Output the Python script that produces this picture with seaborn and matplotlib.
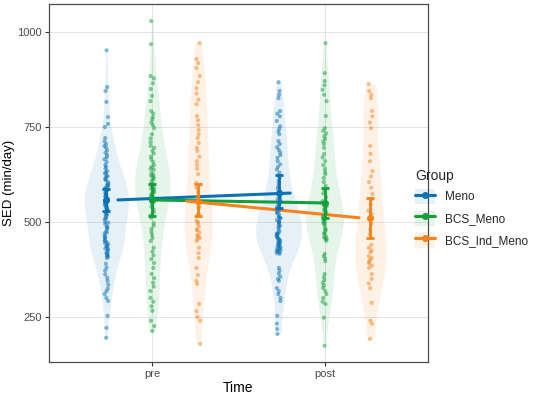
import numpy as np
import pandas as pd
import matplotlib
matplotlib.use("Agg")
import matplotlib.pyplot as plt
import seaborn as sns
from matplotlib.lines import Line2D
from matplotlib.patches import Patch

times = ["pre", "post"]
groups = ["Meno", "BCS_Meno", "BCS_Ind_Meno"]
colors = ["#0A72B5", "#12A03A", "#F7821B"]

# individual SED values (min/day)
meno_pre = [952, 855, 845, 816, 776, 758, 750, 721, 712, 705, 700, 695, 688, 682, 676, 670,
            665, 658, 650, 645, 640, 634, 630, 628, 622, 620, 616, 612, 610, 605, 600, 598,
            596, 592, 590, 588, 584, 582, 580, 576, 574, 572, 568, 566, 565, 562, 560, 558,
            555, 554, 552, 548, 546, 545, 541, 538, 537, 533, 530, 529, 525, 521, 520, 517,
            512, 510, 506, 500, 498, 494, 488, 486, 482, 476, 472, 470, 464, 460, 458, 452,
            450, 447, 444, 442, 438, 436, 434, 430, 428, 426, 421, 418, 416, 412, 411, 408,
            405, 390, 380, 372, 362, 353, 345, 335, 325, 318, 310, 300, 292, 253, 221, 195]
bcs_pre = [1029, 968, 884, 878, 865, 850, 832, 818, 792, 785, 776, 770, 762, 755, 747, 731,
           720, 710, 700, 695, 687, 680, 672, 665, 658, 650, 645, 640, 638, 630, 625, 622,
           620, 616, 612, 608, 600, 600, 598, 595, 590, 588, 585, 580, 578, 575, 570, 568,
           565, 560, 555, 547, 540, 533, 525, 518, 511, 497, 490, 482, 474, 466, 458, 450,
           432, 422, 412, 402, 392, 379, 363, 352, 340, 330, 318, 300, 290, 278, 266, 240,
           226, 213]
bcs_ind_pre = [971, 929, 918, 905, 884, 868, 852, 838, 822, 810, 779, 768, 755, 742, 731, 721,
               708, 695, 687, 672, 660, 650, 640, 626, 603, 590, 578, 566, 555, 540, 537, 521,
               520, 503, 500, 495, 488, 480, 478, 472, 465, 462, 458, 455, 450, 432, 418, 405,
               379, 360, 345, 337, 284, 265, 250, 240, 179]
meno_post = [868, 845, 835, 826, 792, 785, 778, 766, 752, 745, 738, 731, 713, 705, 697, 690,
             683, 676, 669, 660, 652, 645, 638, 630, 623, 616, 608, 601, 594, 587, 580, 573,
             566, 560, 560, 555, 550, 548, 545, 540, 536, 535, 530, 525, 524, 520, 515, 512,
             510, 510, 505, 500, 500, 500, 495, 490, 490, 485, 480, 475, 470, 470, 468, 466,
             463, 460, 458, 456, 453, 452, 449, 447, 445, 443, 441, 438, 437, 434, 432, 430,
             428, 426, 424, 422, 420, 418, 416, 379, 372, 364, 356, 350, 345, 326, 318, 310,
             300, 292, 253, 232, 218, 205]
bcs_post = [971, 892, 871, 860, 848, 835, 818, 779, 747, 740, 733, 726, 719, 712, 705, 695,
            679, 670, 660, 650, 640, 632, 626, 616, 605, 595, 585, 575, 565, 555, 550, 545,
            545, 540, 535, 530, 530, 525, 520, 515, 515, 510, 505, 503, 500, 497, 495, 490,
            483, 480, 476, 470, 469, 462, 460, 456, 455, 450, 416, 410, 404, 397, 363, 355,
            347, 340, 333, 326, 318, 310, 300, 290, 284, 248, 174]
bcs_ind_post = [863, 845, 835, 826, 792, 778, 762, 747, 700, 679, 660, 634, 620, 605, 590, 574,
                560, 545, 530, 521, 511, 495, 480, 468, 440, 432, 425, 420, 410, 405, 400, 395,
                390, 385, 379, 363, 350, 338, 326, 287, 240, 232, 192]

# group means and 95% CI (order: groups, pre then post)
mean_pre = [558, 558, 555]
mean_post = [576, 550, 511]
low_pre = [530, 516, 516]
low_post = [537, 511, 458]
high_pre = [588, 600, 600]
high_post = [624, 590, 563]

series = {("pre", "Meno"): meno_pre, ("pre", "BCS_Meno"): bcs_pre,
          ("pre", "BCS_Ind_Meno"): bcs_ind_pre, ("post", "Meno"): meno_post,
          ("post", "BCS_Meno"): bcs_post, ("post", "BCS_Ind_Meno"): bcs_ind_post}
rows = [(t, g, v) for (t, g), vals in series.items() for v in vals]
df = pd.DataFrame(rows, columns=["Time", "Group", "SED"])

summ = pd.DataFrame({
    "Time": ["pre"] * 3 + ["post"] * 3,
    "Group": groups * 2,
    "mean": mean_pre + mean_post,
    "low": low_pre + low_post,
    "high": high_pre + high_post,
})

sns.set_theme(style="white")
plt.rcParams["font.family"] = ["Liberation Sans", "DejaVu Sans"]

fig = plt.figure(figsize=(5.5, 3.94), dpi=100)
ax = fig.add_axes([0.089, 0.08, 0.689, 0.91])
pal = dict(zip(groups, colors))

sns.violinplot(data=df, x="Time", y="SED", hue="Group", order=times, hue_order=groups,
               palette=pal, cut=0, inner=None, linewidth=0, saturation=1, bw_adjust=0.85,
               density_norm="area", common_norm=True, legend=False, ax=ax)
for coll in ax.collections:
    coll.set_alpha(0.1)

np.random.seed(3)
sns.stripplot(data=df, x="Time", y="SED", hue="Group", order=times, hue_order=groups,
              palette=pal, dodge=True, jitter=0.035, size=3.0, alpha=0.5, linewidth=0,
              legend=False, ax=ax)

# mean lines (narrower dodge than the violins)
sns.pointplot(data=summ, x="Time", y="mean", hue="Group", order=times, hue_order=groups,
              palette=pal, dodge=0.4, markers="", errorbar=None, linewidth=2.2,
              legend=False, ax=ax)

# mean + CI at the violin positions
width = 0.8 / len(groups)
for gi, g in enumerate(groups):
    sub = summ[summ["Group"] == g].set_index("Time").loc[times]
    xs = np.arange(len(times)) + (gi - 1) * width
    ax.errorbar(xs, sub["mean"], yerr=[sub["mean"] - sub["low"], sub["high"] - sub["mean"]],
                fmt="o", color=pal[g], ms=4, elinewidth=2, capsize=2.8, capthick=2, zorder=5)

ax.set_xlim(-0.6, 1.6)
ax.set_ylim(130, 1074)
ax.set_yticks([250, 500, 750, 1000])
ax.set_xlabel("Time", fontsize=10, color="black", labelpad=1)
ax.set_ylabel("SED (min/day)", fontsize=9.5, color="black", labelpad=2)
ax.grid(True, color="#E5E5E5", linewidth=0.7)
ax.set_axisbelow(True)
for s in ax.spines.values():
    s.set_visible(True)
    s.set_color("#4D4D4D")
    s.set_linewidth(0.9)
ax.tick_params(axis="both", labelsize=8, labelcolor="#4D4D4D", color="#333333",
               length=3, width=0.8, direction="out", bottom=True, left=True, pad=2)

handles = [(Patch(facecolor=c, alpha=0.1, edgecolor="none"),
            Line2D([], [], color=c, marker="o", ms=4, lw=2.2)) for c in colors]
leg = fig.legend(handles, groups, title="Group", loc="center left",
                 bbox_to_anchor=(0.746, 0.472), frameon=False, fontsize=8.5,
                 title_fontsize=10, handlelength=1.7, handleheight=1.6,
                 labelspacing=0.55, borderaxespad=0)
leg._legend_box.align = "left"

fig.savefig("out.png", dpi=100)
